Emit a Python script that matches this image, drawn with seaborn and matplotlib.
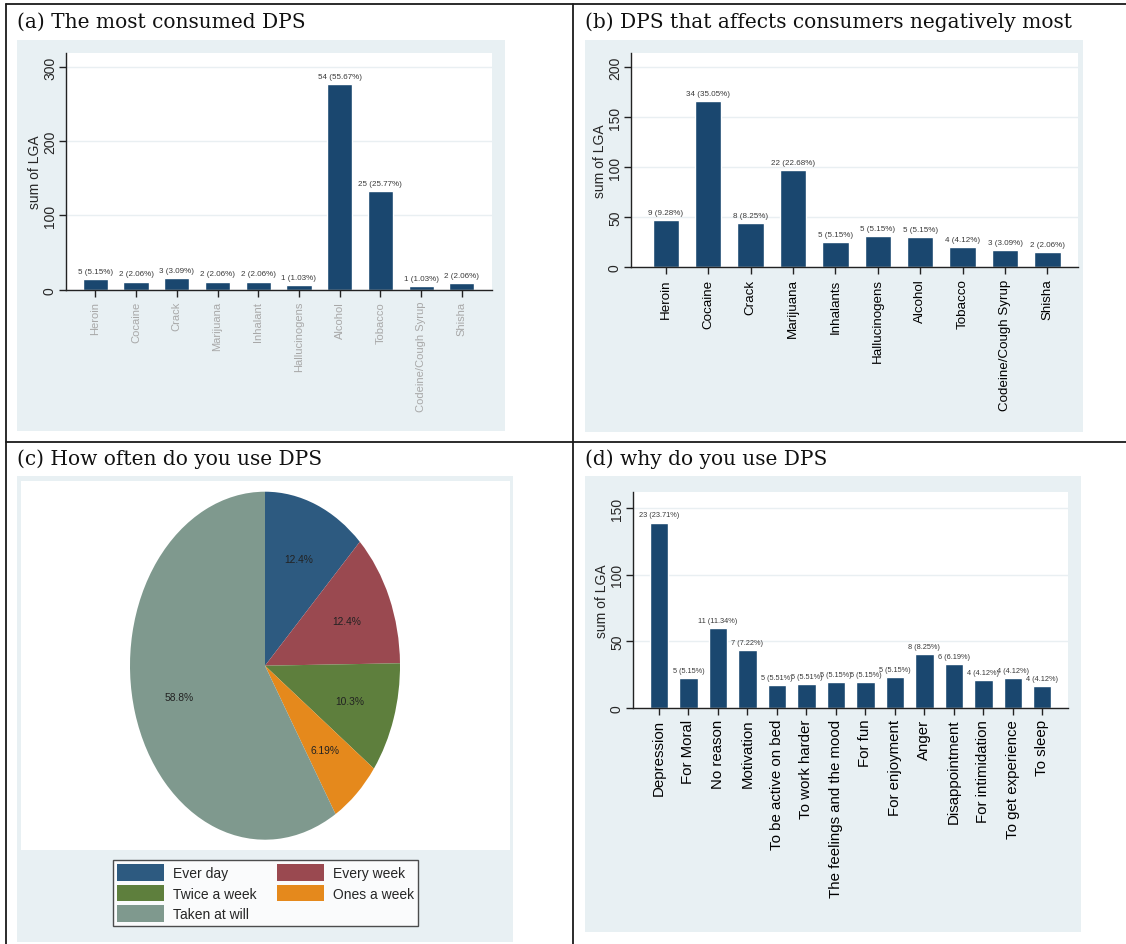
import matplotlib
matplotlib.use("Agg")
import matplotlib.pyplot as plt
import seaborn as sns
from matplotlib.patches import Rectangle
from matplotlib.lines import Line2D

# ---- data ----
drugs_a = ["Heroin", "Cocaine", "Crack", "Marijuana", "Inhalant", "Hallucinogens",
           "Alcohol", "Tobacco", "Codeine/Cough Syrup", "Shisha"]
lga_a = [14, 11, 16, 11, 11, 6, 277, 133, 5, 9]
notes_a = ["5 (5.15%)", "2 (2.06%)", "3 (3.09%)", "2 (2.06%)", "2 (2.06%)", "1 (1.03%)",
           "54 (55.67%)", "25 (25.77%)", "1 (1.03%)", "2 (2.06%)"]

drugs_b = ["Heroin", "Cocaine", "Crack", "Marijuana", "Inhalants", "Hallucinogens",
           "Alcohol", "Tobacco", "Codeine/Cough Syrup", "Shisha"]
lga_b = [47, 166, 44, 97, 25, 31, 30, 20, 17, 15]
notes_b = ["9 (9.28%)", "34 (35.05%)", "8 (8.25%)", "22 (22.68%)", "5 (5.15%)", "5 (5.15%)",
           "5 (5.15%)", "4 (4.12%)", "3 (3.09%)", "2 (2.06%)"]

freq_labels = ["Ever day", "Every week", "Twice a week", "Ones a week", "Taken at will"]
freq_pct = [12.4, 12.4, 10.3, 6.19, 58.8]

reasons = ["Depression", "For Moral", "No reason", "Motivation", "To be active on bed",
           "To work harder", "The feelings and the mood", "For fun", "For enjoyment",
           "Anger", "Disappointment", "For intimidation", "To get experience", "To sleep"]
lga_d = [139, 22, 60, 43, 17, 18, 19, 19, 23, 40, 33, 21, 22, 16]
notes_d = ["23 (23.71%)", "5 (5.15%)", "11 (11.34%)", "7 (7.22%)", "5 (5.51%)", "5 (5.51%)",
           "5 (5.15%)", "5 (5.15%)", "5 (5.15%)", "8 (8.25%)", "6 (6.19%)", "4 (4.12%)",
           "4 (4.12%)", "4 (4.12%)"]

# ---- style ----
sns.set_style("white")
plt.rcParams["font.family"] = ["Liberation Sans", "DejaVu Sans"]
navy = "#1a476f"
region_bg = "#e8f0f3"
grid_col = "#e9eff2"
pie_cols = ["#2d5a80", "#9a4950", "#5e7f3d", "#e5891c", "#7f998e"]

W, H = 1126, 945
fig = plt.figure(figsize=(W / 100, H / 100), dpi=100)
fig.patch.set_facecolor("white")


def px_axes(x0, y0, x1, y1):
    return fig.add_axes([x0 / W, 1 - y1 / H, (x1 - x0) / W, (y1 - y0) / H])


def px_rect(x0, y0, x1, y1, color, z=-2):
    fig.patches.append(Rectangle((x0 / W, 1 - y1 / H), (x1 - x0) / W, (y1 - y0) / H,
                                 transform=fig.transFigure, facecolor=color,
                                 edgecolor="none", zorder=z))


def px_line(x0, y0, x1, y1):
    fig.lines.append(Line2D([x0 / W, x1 / W], [1 - y0 / H, 1 - y1 / H],
                            transform=fig.transFigure, color="#1a1a1a", lw=1.3))


def title(x, y, s):
    fig.text(x / W, 1 - y / H, s, family=["DejaVu Serif"],
             fontsize=14.5, ha="left", va="center", color="#111111")


# panel frame
px_line(6, 5, W, 5)
px_line(6, 5, 6, H)
px_line(573, 5, 573, H)
px_line(6, 443, W, 443)

# grey graph regions
px_rect(17, 41, 505, 432, region_bg)
px_rect(585, 41, 1083, 433, region_bg)
px_rect(17, 477, 513, 943, region_bg)
px_rect(585, 477, 1081, 933, region_bg)
px_rect(21, 482, 510, 851, "white", z=-1)

title(17, 22, "(a) The most consumed DPS")
title(585, 22, "(b) DPS that affects consumers negatively most")
title(17, 459, "(c) How often do you use DPS")
title(585, 459, "(d) why do you use DPS")


def bar_panel(ax, cats, vals, notes, ymax, ticks, xlim, tick_fs, tick_col, note_fs=5.8):
    sns.barplot(x=cats, y=vals, color=navy, saturation=1, width=0.62, ax=ax)
    ax.bar_label(ax.containers[0], labels=notes, padding=3, fontsize=note_fs, color="#3a3a3a")
    ax.set_facecolor("white")
    ax.set_ylim(0, ymax)
    ax.set_xlim(*xlim)
    ax.set_yticks(ticks)
    ax.set_ylabel("sum of LGA", fontsize=10, labelpad=1)
    ax.yaxis.grid(True, color=grid_col, lw=1)
    ax.set_axisbelow(True)
    for side in ["top", "right"]:
        ax.spines[side].set_visible(False)
    for side in ["left", "bottom"]:
        ax.spines[side].set_color("#222222")
        ax.spines[side].set_linewidth(1.0)
    ax.tick_params(axis="y", direction="out", length=5, width=1, color="#222222",
                   labelsize=10, labelrotation=90, pad=1.5, left=True)
    ax.tick_params(axis="x", direction="out", length=5, width=1, color="#222222",
                   labelsize=tick_fs, labelrotation=90, labelcolor=tick_col, pad=3, bottom=True)
    for t in ax.get_yticklabels():
        t.set_va("center")


ax_a = px_axes(66, 54, 492, 290.7)
bar_panel(ax_a, drugs_a, lga_a, notes_a, 319, [0, 100, 200, 300], (-0.72, 9.74), 8.0, "#a8a8a8")

ax_b = px_axes(631, 54, 1078, 268.3)
bar_panel(ax_b, drugs_b, lga_b, notes_b, 214, [0, 50, 100, 150, 200], (-0.82, 9.72), 9.6, "black")

ax_d = px_axes(633, 493, 1068, 708.7)
bar_panel(ax_d, reasons, lga_d, notes_d, 162, [0, 50, 100, 150], (-0.88, 13.87), 10.8, "black",
          note_fs=5.3)

# ---- pie (c) ----
ax_c = px_axes(130, 492.7, 400, 840.7)
wedges, texts = ax_c.pie(freq_pct, colors=pie_cols, startangle=90, counterclock=False,
                         labels=[f"{p:g}%" for p in freq_pct], labeldistance=0.66,
                         wedgeprops=dict(linewidth=0),
                         textprops=dict(fontsize=7.4, color="#222222"))
for t in texts:
    t.set_ha("center")
    t.set_va("center")
ax_c.set_aspect("auto")
ax_c.set_xlim(-1, 1)
ax_c.set_ylim(-1, 1)
ax_c.axis("off")

order = [0, 2, 4, 1, 3]
leg = fig.legend([wedges[i] for i in order], [freq_labels[i] for i in order],
                 loc="center", bbox_to_anchor=(265.5 / W, 1 - 894 / H), ncol=2,
                 fontsize=10, frameon=True, fancybox=False, handlelength=3.4,
                 handleheight=1.45, labelspacing=0.3, columnspacing=1.5,
                 handletextpad=0.6, borderpad=0.3, borderaxespad=0)
leg.get_frame().set_edgecolor("#222222")
leg.get_frame().set_linewidth(1.0)

fig.savefig("out.png", dpi=100)
